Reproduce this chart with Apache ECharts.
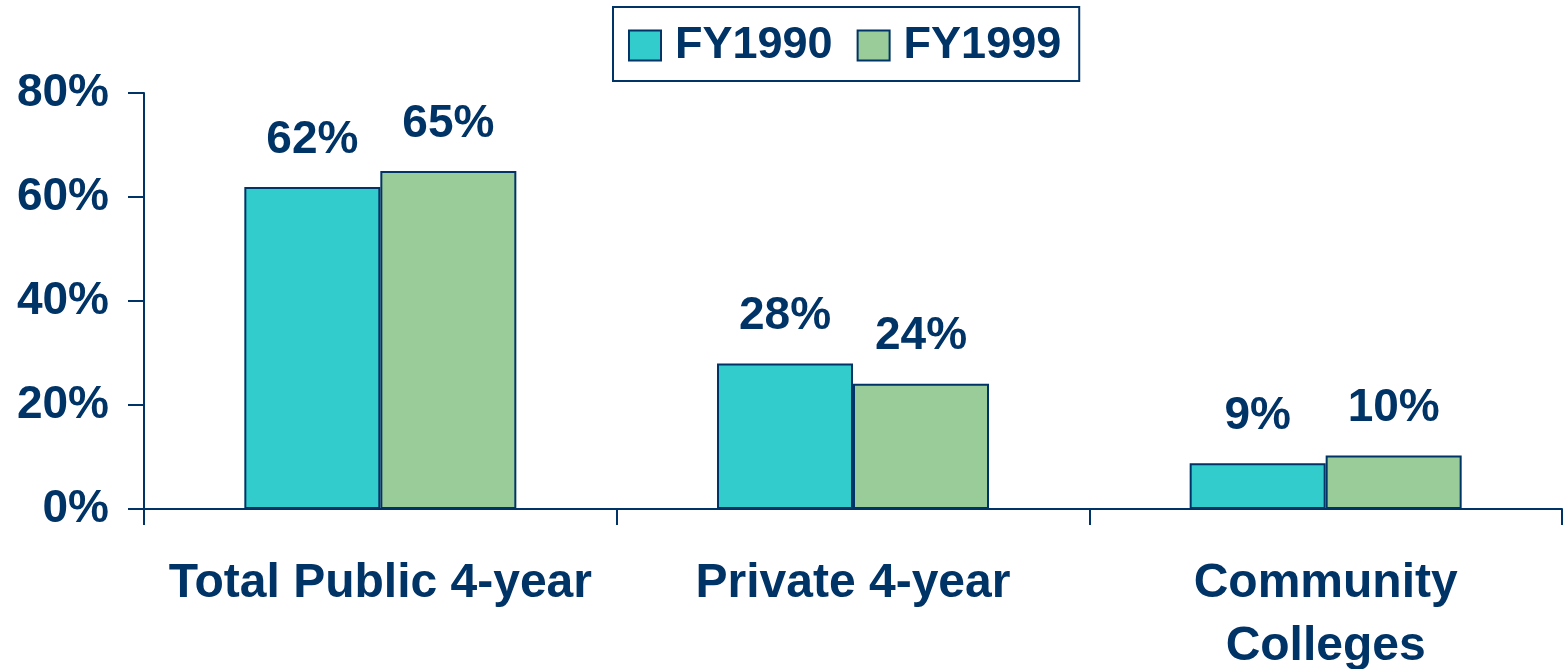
<!DOCTYPE html>
<html>
<head>
<meta charset="utf-8">
<script src="https://cdn.jsdelivr.net/npm/echarts@6/dist/echarts.min.js"></script>
<style>
html,body{margin:0;padding:0;background:#fff;}
#chart{width:1566px;height:669px;}
</style>
</head>
<body>
<div id="chart"></div>
<script>
const categories = ['Total Public 4-year', 'Private 4-year', 'Community\nColleges'];
const seriesNames = ['FY1990', 'FY1999'];
const fy1990 = [61.9, 28.0, 8.8];
const fy1999 = [65.0, 24.1, 10.3];
const yTicks = [0, 20, 40, 60, 80];

const NAVY = '#003366';
const FONT = '"Liberation Sans", Arial, sans-serif';

const chart = echarts.init(document.getElementById('chart'));
const labelCfg = {
  show: true,
  position: 'top',
  distance: 24,
  color: NAVY,
  fontFamily: FONT,
  fontWeight: 'bold',
  fontSize: 46,
  formatter: p => Math.round(p.value) + '%'
};
chart.setOption({
  animation: false,
  backgroundColor: '#fff',
  legend: {
    data: seriesNames,
    left: 613,
    top: 7,
    orient: 'horizontal',
    itemWidth: 32,
    itemHeight: 30,
    itemGap: 24,
    padding: [16, 18, 13, 15],
    borderColor: NAVY,
    borderWidth: 2,
    icon: 'rect',
    textStyle: {
      color: NAVY,
      fontFamily: FONT,
      fontWeight: 'bold',
      fontSize: 45,
      padding: [0, 0, 0, 9]
    }
  },
  grid: {left: 144, right: 4, top: 93, bottom: 160, containLabel: false, outerBoundsMode: 'none'},
  xAxis: {
    type: 'category',
    data: categories,
    axisLine: {lineStyle: {color: NAVY, width: 2}},
    axisTick: {show: true, length: 16, lineStyle: {color: NAVY, width: 2}},
    axisLabel: {
      color: NAVY,
      fontFamily: FONT,
      fontWeight: 'bold',
      fontSize: 48,
      lineHeight: 63,
      margin: 43,
      interval: 0
    }
  },
  yAxis: {
    type: 'value',
    min: yTicks[0],
    max: yTicks[yTicks.length - 1],
    interval: 20,
    axisLine: {show: true, lineStyle: {color: NAVY, width: 2}},
    axisTick: {show: true, length: 16, lineStyle: {color: NAVY, width: 2}},
    splitLine: {show: false},
    axisLabel: {
      color: NAVY,
      fontFamily: FONT,
      fontWeight: 'bold',
      fontSize: 46,
      margin: 35,
      formatter: '{value}%'
    }
  },
  series: [
    {
      name: seriesNames[0],
      type: 'bar',
      data: fy1990,
      barWidth: 136,
      barGap: '0%',
      itemStyle: {color: '#33CCCC', borderColor: NAVY, borderWidth: 2},
      label: labelCfg
    },
    {
      name: seriesNames[1],
      type: 'bar',
      data: fy1999,
      barWidth: 136,
      barGap: '0%',
      itemStyle: {color: '#99CC99', borderColor: NAVY, borderWidth: 2},
      label: labelCfg
    }
  ]
});
</script>
</body>
</html>
